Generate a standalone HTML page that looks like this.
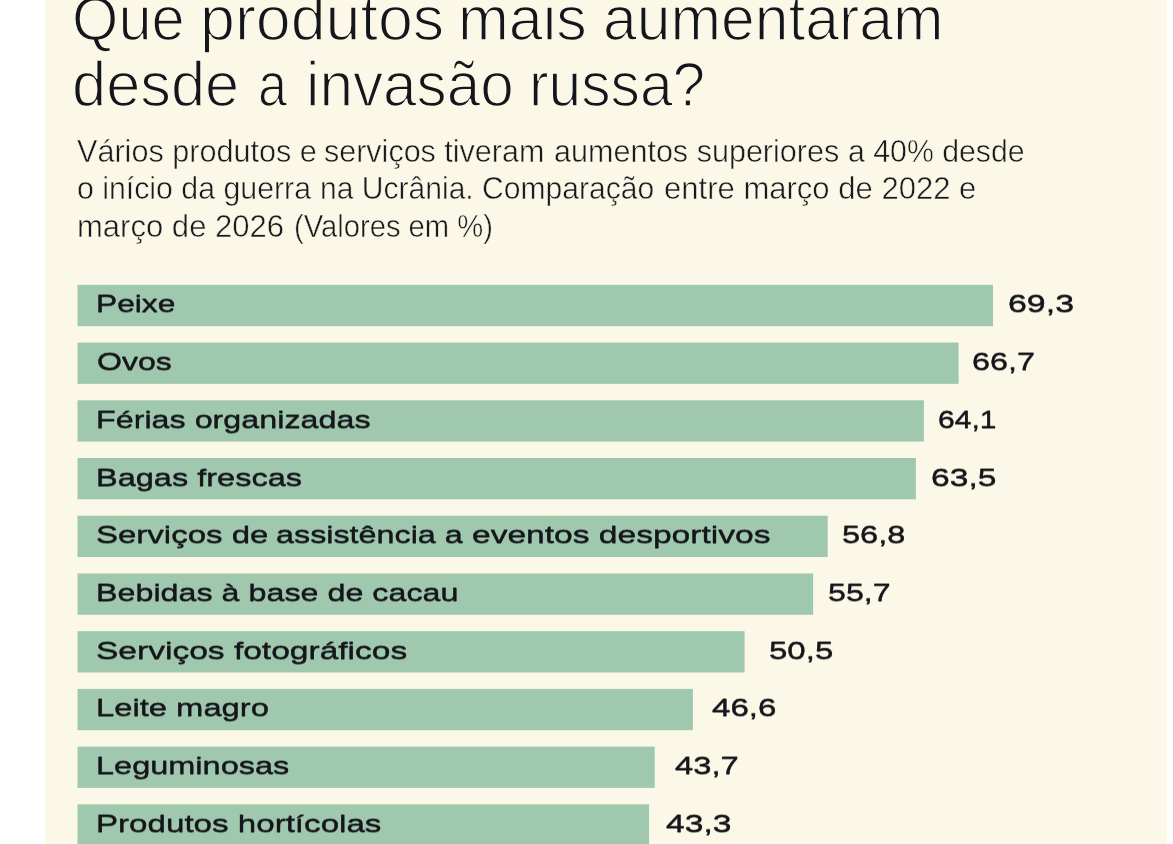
<!DOCTYPE html>
<html lang="pt">
<head>
<meta charset="utf-8">
<title>Que produtos mais aumentaram desde a invasão russa?</title>
<style>
html,body{margin:0;padding:0;background:#fff;}
body{width:1173px;height:844px;overflow:hidden;position:relative;font-family:"Liberation Sans",sans-serif;color:#15161b;}
.card{position:absolute;left:45px;top:0;width:1122px;height:844px;background:#fbf8e8;}
.t{position:absolute;white-space:pre;transform-origin:0 0;margin:0;display:block;line-height:1;}
h1,p{margin:0;font-size:inherit;font-weight:400;}
.h{font-size:62.5px;font-weight:400;-webkit-text-stroke:1.5px #fbf8e8;}
.s{font-size:30.5px;color:#191a1f;-webkit-text-stroke:0.5px #fbf8e8;}
.l,.v{font-size:24.0px;-webkit-text-stroke:0.3px #15161b;text-shadow:0 1px 0 rgba(21,22,27,0.35),0 -1px 0 rgba(21,22,27,0.25);}
.bars{position:absolute;left:0;top:0;}
</style>
</head>
<body>
<div class="card"></div>
<h1>
<span class="t h" style="left:72px;top:-13px;transform:scaleX(0.9544)">Que </span><span class="t h" style="left:200px;top:-13px;transform:scaleX(1.0040)">produtos </span><span class="t h" style="left:458px;top:-13px;transform:scaleX(0.9761)">mais </span><span class="t h" style="left:603px;top:-13px;transform:scaleX(0.9703)">aumentaram</span>
<span class="t h" style="left:72px;top:53px;transform:scaleX(0.9822)">desde </span><span class="t h" style="left:258px;top:53px;transform:scaleX(0.8332)">a </span><span class="t h" style="left:306px;top:53px;transform:scaleX(0.9648)">invasão </span><span class="t h" style="left:529px;top:53px;transform:scaleX(0.9397)">russa?</span>
</h1>
<p>
<span class="t s" style="left:77px;top:136px;transform:scaleX(1.0032)">Vários produtos e </span><span class="t s" style="left:324px;top:136px;transform:scaleX(1.0000)">serviços tiveram </span><span class="t s" style="left:554px;top:136px;transform:scaleX(1.0015)">aumentos superiores </span><span class="t s" style="left:848px;top:136px;transform:scaleX(0.9920)">a 40% desde</span>
<span class="t s" style="left:77px;top:173px;transform:scaleX(0.9928)">o início da guerra </span><span class="t s" style="left:320px;top:173px;transform:scaleX(0.9856)">na Ucrânia. Comparação </span><span class="t s" style="left:664px;top:173px;transform:scaleX(1.0178)">entre março de 2022 e</span>
<span class="t s" style="left:77px;top:211px;transform:scaleX(1.0177)">março de 2026 </span><span class="t s" style="left:294px;top:211px;transform:scaleX(0.9569)">(Valores em %)</span>
</p>
<svg class="bars" width="1173" height="844" viewBox="0 0 1173 844" aria-hidden="true">
<rect x="77.5" y="284.85" width="915.5" height="41.3" fill="#a0c8ae"/>
<rect x="77.5" y="342.57" width="881.1" height="41.3" fill="#a0c8ae"/>
<rect x="77.5" y="400.29" width="846.4" height="41.3" fill="#a0c8ae"/>
<rect x="77.5" y="458.01" width="838.4" height="41.3" fill="#a0c8ae"/>
<rect x="77.5" y="515.73" width="750.2" height="41.3" fill="#a0c8ae"/>
<rect x="77.5" y="573.45" width="735.6" height="41.3" fill="#a0c8ae"/>
<rect x="77.5" y="631.17" width="667.1" height="41.3" fill="#a0c8ae"/>
<rect x="77.5" y="688.89" width="615.4" height="41.3" fill="#a0c8ae"/>
<rect x="77.5" y="746.61" width="577.2" height="41.3" fill="#a0c8ae"/>
<rect x="77.5" y="804.33" width="571.6" height="41.3" fill="#a0c8ae"/>
</svg>
<div class="row"><span class="t l" style="left:96px;top:292px;transform:scaleX(1.3221)">Peixe</span><span class="t v" style="left:1008px;top:292px;transform:scaleX(1.4130)">69,3</span></div>
<div class="row"><span class="t l" style="left:97px;top:350px;transform:scaleX(1.3351)">Ovos</span><span class="t v" style="left:972px;top:350px;transform:scaleX(1.3479)">66,7</span></div>
<div class="row"><span class="t l" style="left:96px;top:408px;transform:scaleX(1.3451)">Férias organizadas</span><span class="t v" style="left:938px;top:408px;transform:scaleX(1.2524)">64,1</span></div>
<div class="row"><span class="t l" style="left:96px;top:466px;transform:scaleX(1.3547)">Bagas frescas</span><span class="t v" style="left:931px;top:466px;transform:scaleX(1.4002)">63,5</span></div>
<div class="row"><span class="t l" style="left:96px;top:523px;transform:scaleX(1.3753)">Serviços de </span><span class="t l" style="left:276px;top:523px;transform:scaleX(1.3463)">assistência a </span><span class="t l" style="left:472px;top:523px;transform:scaleX(1.3981)">eventos desportivos</span><span class="t v" style="left:842px;top:523px;transform:scaleX(1.3575)">56,8</span></div>
<div class="row"><span class="t l" style="left:96px;top:581px;transform:scaleX(1.3449)">Bebidas à base de cacau</span><span class="t v" style="left:828px;top:581px;transform:scaleX(1.3402)">55,7</span></div>
<div class="row"><span class="t l" style="left:96px;top:639px;transform:scaleX(1.3972)">Serviços fotográficos</span><span class="t v" style="left:769px;top:639px;transform:scaleX(1.3764)">50,5</span></div>
<div class="row"><span class="t l" style="left:96px;top:696px;transform:scaleX(1.3647)">Leite magro</span><span class="t v" style="left:712px;top:696px;transform:scaleX(1.3786)">46,6</span></div>
<div class="row"><span class="t l" style="left:96px;top:754px;transform:scaleX(1.3537)">Leguminosas</span><span class="t v" style="left:675px;top:754px;transform:scaleX(1.3632)">43,7</span></div>
<div class="row"><span class="t l" style="left:96px;top:812px;transform:scaleX(1.3802)">Produtos hortícolas</span><span class="t v" style="left:666px;top:812px;transform:scaleX(1.4027)">43,3</span></div>
</body>
</html>
